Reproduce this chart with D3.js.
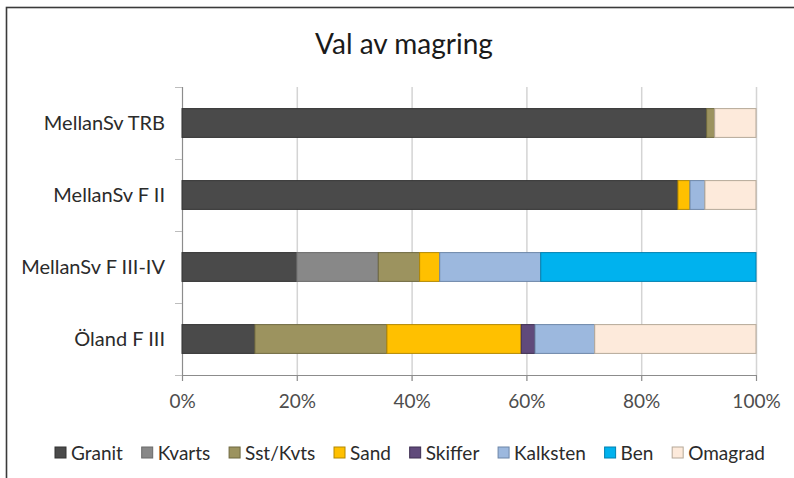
<!DOCTYPE html>
<html>
<head>
<meta charset="utf-8">
<script src="https://cdn.jsdelivr.net/npm/d3@7"></script>
<style>
  body { margin: 0; background: #fff; }
  svg { display: block; font-family: Lato, "Open Sans", sans-serif; }
</style>
</head>
<body>
<svg id="chart" width="794" height="478"></svg>
<script>
// data, in percent of each row
const categories = ["MellanSv TRB", "MellanSv F II", "MellanSv F III-IV", "Öland F III"];
const materials = ["Granit", "Kvarts", "Sst/Kvts", "Sand", "Skiffer", "Kalksten", "Ben", "Omagrad"];
const granit   = [91.4, 86.4, 20.0, 12.7];
const kvarts   = [0, 0, 14.2, 0];
const sstKvts  = [1.4, 0, 7.2, 23.0];
const sand     = [0, 2.1, 3.5, 23.4];
const skiffer  = [0, 0, 0, 2.4];
const kalksten = [0, 2.6, 17.6, 10.4];
const ben      = [0, 0, 37.5, 0];
const omagrad  = [7.2, 8.9, 0, 28.1];
const xTicks = [0, 20, 40, 60, 80, 100];

const fills   = ["#4a4a4a", "#888888", "#9c935f", "#ffc000", "#604a7b", "#9cb8de", "#00b2ee", "#fdeadb"];
const strokes = ["#333333", "#6a6a6a", "#6f6940", "#b38800", "#3e2f52", "#6d86a8", "#0080b0", "#b5a898"];

const seriesValues = [granit, kvarts, sstKvts, sand, skiffer, kalksten, ben, omagrad];
const rows = categories.map((c, i) => {
    const r = { cat: c };
    materials.forEach((m, j) => r[m] = seriesValues[j][i]);
    return r;
});

const svg = d3.select("svg#chart");
const margin = { top: 87, right: 38, bottom: 103, left: 182 };
const width = 794, height = 478;
const chartWidth = width - margin.left - margin.right;   // 574
const chartHeight = height - margin.top - margin.bottom; // 288

// outer frame (cropped on right and bottom, like the screenshot)
svg.append("rect")
    .attr("x", 6.5).attr("y", 7.5)
    .attr("width", 800).attr("height", 490)
    .attr("fill", "none").attr("stroke", "#3a3a3a").attr("stroke-width", 1.6);

svg.append("text")
    .attr("x", 404).attr("y", 54)
    .attr("text-anchor", "middle")
    .attr("font-size", 28)
    .attr("fill", "#1a1a1a")
    .text("Val av magring");

const xScale = d3.scaleLinear().domain([0, 100]).range([0, chartWidth]);
const yScale = d3.scaleBand().domain(categories).range([0, chartHeight]).paddingInner(0.6).paddingOuter(0.3);

const g = svg.append("g").attr("transform", `translate(${margin.left},${margin.top})`);

// vertical gridlines
g.append("g").attr("class", "gridlines")
    .call(d3.axisBottom(xScale).tickValues(xTicks).tickSize(chartHeight + 6).tickFormat(""))
    .call(s => s.select(".domain").remove())
    .call(s => s.selectAll("line").attr("stroke", "#d4d4d4").attr("stroke-width", 1.5));

// x axis
const xAxis = g.append("g")
    .attr("transform", `translate(0,${chartHeight})`)
    .call(d3.axisBottom(xScale).tickValues(xTicks).tickSize(6).tickFormat(d => d + "%").tickPadding(14));
xAxis.select(".domain").attr("d", `M-7,0.5H${chartWidth}`).attr("stroke", "#8c8c8c");
xAxis.selectAll("line").attr("stroke", "#8c8c8c");
xAxis.selectAll("text").attr("font-size", 19).attr("fill", "#4d4d4d").attr("font-family", "Lato, sans-serif");

// y axis with ticks at category boundaries
const boundaries = d3.range(categories.length + 1).map(i => i * chartHeight / categories.length);
const yAxis = g.append("g");
yAxis.append("line").attr("x1", 0.5).attr("x2", 0.5).attr("y1", 0).attr("y2", chartHeight)
    .attr("stroke", "#8c8c8c");
yAxis.selectAll("line.tick").data(boundaries).join("line").attr("class", "tick")
    .attr("x1", -7).attr("x2", 0).attr("y1", d => d + 0.5).attr("y2", d => d + 0.5)
    .attr("stroke", "#bdbdbd");
yAxis.selectAll("text").data(categories).join("text")
    .attr("x", -17)
    .attr("y", d => yScale(d) + yScale.bandwidth() / 2)
    .attr("dy", "0.35em")
    .attr("text-anchor", "end")
    .attr("font-size", 20)
    .attr("fill", "#2b2b2b")
    .text(d => d);

// stacked bars
const stacked = d3.stack().keys(materials)(rows);
g.selectAll("g.series").data(stacked).join("g").attr("class", "series")
    .attr("fill", (d, i) => fills[i])
    .attr("stroke", (d, i) => strokes[i])
    .selectAll("rect").data(d => d.filter(p => p[1] - p[0] > 0)).join("rect")
    .attr("x", d => xScale(d[0]))
    .attr("y", d => yScale(d.data.cat))
    .attr("width", d => xScale(d[1]) - xScale(d[0]))
    .attr("height", yScale.bandwidth())
    .attr("stroke-width", 1);

// legend, spread between x=55 and x=765
const legend = svg.append("g").attr("transform", "translate(0,453)");
const items = legend.selectAll("g").data(materials).join("g");
items.append("rect")
    .attr("x", 0).attr("y", -6).attr("width", 11).attr("height", 11)
    .attr("fill", (d, i) => fills[i])
    .attr("stroke", (d, i) => strokes[i]);
items.append("text")
    .attr("x", 16).attr("dy", "0.35em")
    .attr("font-size", 19).attr("fill", "#2b2b2b")
    .text(d => d);
const widths = [];
items.each(function () { widths.push(16 + this.querySelector("text").getComputedTextLength()); });
const gap = (710 - d3.sum(widths)) / (widths.length - 1);
let lx = 55;
items.attr("transform", (d, i) => {
    const t = `translate(${lx},0)`;
    lx += widths[i] + gap;
    return t;
});
</script>
</body>
</html>
